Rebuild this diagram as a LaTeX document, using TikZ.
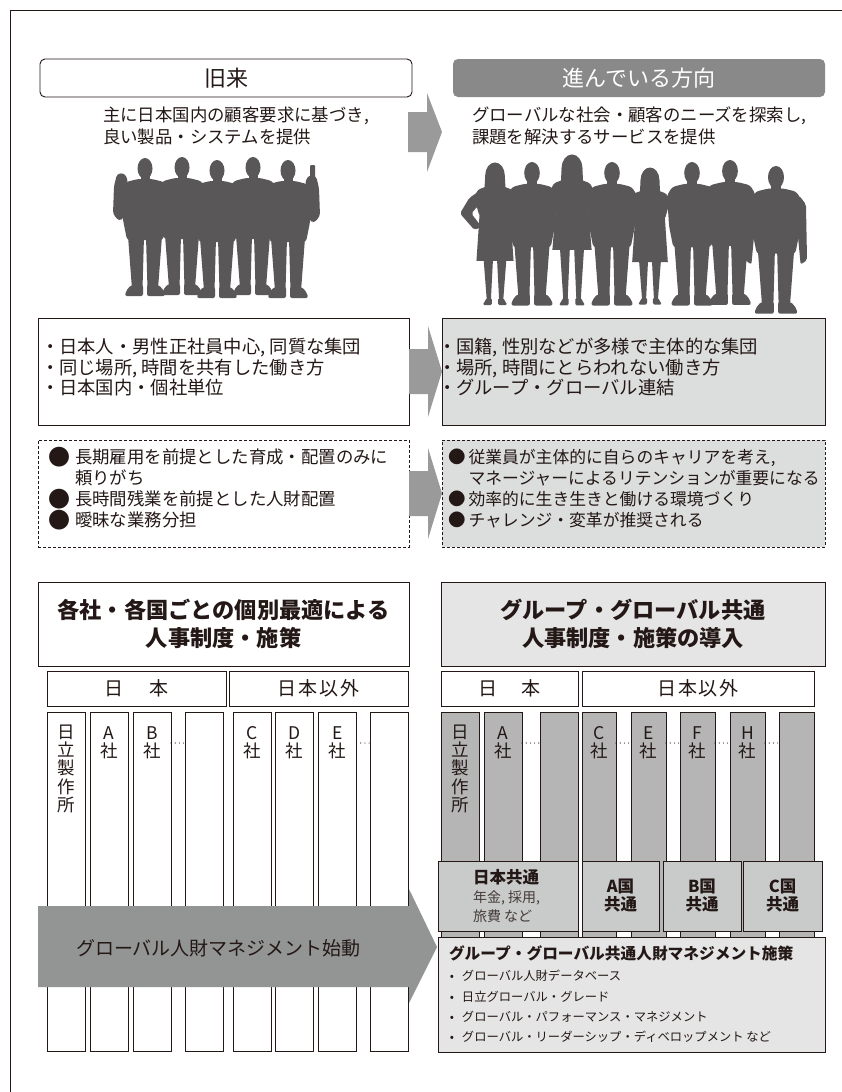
\documentclass[tikz,border=0pt]{standalone}
\usepackage{fontspec}
\setmainfont{Noto Sans CJK JP}
\definecolor{ink}{HTML}{231815}
\definecolor{silcol}{HTML}{595757}
\definecolor{arrowgray}{HTML}{9A9A9A}
\definecolor{bigarrowgray}{HTML}{939494}
\definecolor{headgray}{HTML}{898989}
\definecolor{panelgray}{HTML}{DCDDDD}
\definecolor{lightpanel}{HTML}{E5E5E5}
\definecolor{colgray}{HTML}{B5B5B6}
\definecolor{midgray}{HTML}{C9CACA}

% stacked lines whose first baseline is the baseline of the box
\newcommand\ctrlines[2]{\vtop{\baselineskip=#1\lineskiplimit=-\maxdimen\halign{\hfil##\hfil\cr#2\crcr}}}
\newcommand\leftlines[2]{\vtop{\baselineskip=#1\lineskiplimit=-\maxdimen\halign{##\hfil\cr#2\crcr}}}
\newcommand\jfs[1]{\fontsize{#1}{#1}\selectfont}
% large round bullet: box width, glyph size, vertical shift
\newcommand\bigdot[3]{\makebox[#1][l]{\raisebox{#3}{\fontsize{#2}{#2}\selectfont ●}}}

\tikzset{
  sil/.style={fill=silcol},
  lbl/.style={inner sep=0pt, outer sep=0pt, text=ink},
  plainbox/.style={draw=ink, line width=0.9pt, inner sep=0pt, outer sep=0pt, text=ink},
  dashbox/.style={plainbox, line width=0.8pt, dash pattern=on 3pt off 2pt},
  colbox/.style={plainbox, minimum width=38pt, minimum height=339pt, fill=white},
  gcolbox/.style={plainbox, minimum height=228pt, fill=colgray},
  dotrow/.style={draw=ink, line width=1.2pt, line cap=round, dash pattern=on 0pt off 4.2pt},
}

% standing man, origin at the top of the head, y pointing down
\newcommand\manbody{%
  \fill[sil] (0,10.5) ellipse (7.5 and 10.5);
  \fill[sil] (-4.5,16) rectangle (4.5,25);
  \fill[sil,rounded corners=3pt] (-7,21) -- (-19,24) -- (-24,32) -- (-22,62) -- (-18,82) -- (18,82) -- (22,62) -- (24,32) -- (19,24) -- (7,21) -- cycle;
  \fill[sil] (-17,78) -- (-1,78) -- (-2.5,131) -- (-13,131) -- cycle;
  \fill[sil] (1,78) -- (17,78) -- (13,131) -- (2.5,131) -- cycle;
  \fill[sil,rounded corners=2pt] (-14,127) -- (-2,127) -- (-2,138) -- (-20,138) -- (-19,133) -- cycle;
  \fill[sil,rounded corners=2pt] (14,127) -- (2,127) -- (2,138) -- (20,138) -- (19,133) -- cycle;
}
\newcommand\manfig[3]{\begin{scope}[shift={(#1,#2)},scale=#3]\manbody\end{scope}}
% standing woman in a skirt; #4 is the hem height
\newcommand\womanfig[4]{\begin{scope}[shift={(#1,#2)},scale=#3]
  \fill[sil] (0,12) ellipse (9.5 and 12.5);
  \fill[sil] (-9.5,12) -- (-10.5,30) -- (10.5,30) -- (9.5,12) -- cycle;
  \fill[sil,rounded corners=3pt] (-6,22) -- (-17,26) -- (-20,34) -- (-15,52) -- (15,52) -- (20,34) -- (17,26) -- (6,22) -- cycle;
  \fill[sil] (-15,50) -- (15,50) -- (18,#4) -- (-18,#4) -- cycle;
  \fill[sil] (-11,#4-1) -- (-2,#4-1) -- (-4,133) -- (-8,133) -- cycle;
  \fill[sil] (11,#4-1) -- (2,#4-1) -- (4,133) -- (8,133) -- cycle;
  \fill[sil,rounded corners=1.5pt] (-8,131) -- (-3,131) -- (-3,138) -- (-12,138) -- cycle;
  \fill[sil,rounded corners=1.5pt] (8,131) -- (3,131) -- (3,138) -- (12,138) -- cycle;
\end{scope}}

\begin{document}
\begin{tikzpicture}[x=1pt,y=-1pt]
\useasboundingbox (0,0) rectangle (842,1092);
\fill[white] (0,0) rectangle (842,1092);

% page frame
\draw[ink, line width=0.8pt] (842,10) -- (10,10) -- (10,1092);

% ---------- headings ----------
\node[plainbox, rounded corners=5pt, fill=white, minimum width=372pt, minimum height=38pt, font=\jfs{22}] (oldHead) at (226,78) {旧来};
\node[plainbox, draw=none, rounded corners=5pt, fill=headgray, text=white, minimum width=372pt, minimum height=38pt, font=\jfs{22}] (newHead) at (639,78) {進んでいる方向};

\fill[arrowgray] (408,112) -- (427,112) -- (427,93) -- (442,132) -- (427,172) -- (427,152) -- (408,152) -- cycle;

\node[lbl, anchor=base west, font=\jfs{17.4}] (oldDesc) at (103,121.5)
  {\leftlines{22pt}{主に日本国内の顧客要求に基づき,\cr 良い製品・システムを提供}};
\node[lbl, anchor=base west, font=\jfs{17.4}] (newDesc) at (472,121.5)
  {\leftlines{22pt}{グローバルな社会・顧客のニーズを探索し,\cr 課題を解決するサービスを提供}};

% ---------- silhouettes: five men ----------
\foreach \hx/\hy in {145/158, 182/157, 217/160, 253/157, 288/160} {\manfig{\hx}{\hy}{1.0}}
\begin{scope}[shift={(145,158)}]
  \fill[sil,rounded corners=3pt] (-19,30) -- (-17,22) -- (-21,15) -- (-28,16) -- (-31,28) -- (-32,56) -- (-26,63) -- (-21,60) -- cycle;
\end{scope}
\begin{scope}[shift={(288,160)}]
  \fill[sil,rounded corners=3pt] (19,30) -- (17,22) -- (21,15) -- (28,16) -- (31,28) -- (32,56) -- (26,63) -- (21,60) -- cycle;
  \fill[sil,rounded corners=1pt] (22,5) rectangle (27,18);
\end{scope}

% ---------- silhouettes: mixed group ----------
\womanfig{495}{163}{1.03}{95}
\begin{scope}[shift={(495,163)},scale=1.03]
  \fill[sil,rounded corners=2pt] (-15,27) -- (-25,34) -- (-34,49) -- (-20,65) -- (-13,62) -- (-23,49) -- (-16,41) -- cycle;
\end{scope}
\manfig{532}{162}{1.04}
\womanfig{572}{155}{1.09}{87}
\manfig{612}{162}{1.04}
\womanfig{650}{168}{0.99}{95}
\manfig{692}{162}{1.04}
\manfig{730}{160}{1.05}
\manfig{776}{166}{1.07}
\begin{scope}[shift={(776,166)},scale=1.07]
  \fill[sil,rounded corners=2pt] (-22,28) -- (-28,36) -- (-29,88) -- (-23,92) -- (-20,60) -- cycle;
  \fill[sil,rounded corners=2pt] (22,28) -- (28,36) -- (29,88) -- (23,92) -- (20,60) -- cycle;
\end{scope}

% ---------- first row ----------
\node[plainbox, fill=white, minimum width=371pt, minimum height=107pt] (rowOneL) at (223.5,371.5) {};
\node[plainbox, fill=panelgray, minimum width=383pt, minimum height=107pt] (rowOneR) at (633.5,371.5) {};
\fill[arrowgray] (409,349) -- (428,349) -- (428,326) -- (442,371.5) -- (428,417) -- (428,394) -- (409,394) -- cycle;

\node[lbl, anchor=base west, font=\jfs{18.3}] (rowOneLT) at (41,353.6)
  {\leftlines{20.5pt}{・日本人・男性正社員中心, 同質な集団\cr ・同じ場所, 時間を共有した働き方\cr ・日本国内・個社単位}};
\node[lbl, anchor=base west, font=\jfs{18.3}] (rowOneRT) at (438,353.6)
  {\leftlines{20.5pt}{・国籍, 性別などが多様で主体的な集団\cr ・場所, 時間にとらわれない働き方\cr ・グループ・グローバル連結}};

% ---------- second row ----------
\node[dashbox, fill=white, minimum width=371pt, minimum height=107pt] (rowTwoL) at (223.5,493.5) {};
\node[dashbox, fill=panelgray, minimum width=383pt, minimum height=107pt] (rowTwoR) at (633.5,493.5) {};
\fill[arrowgray] (409,471) -- (428,471) -- (428,448) -- (442,493.5) -- (428,539) -- (428,516) -- (409,516) -- cycle;

\node[lbl, anchor=base west, font=\jfs{17.4}] (rowTwoLT) at (48,463.6)
  {\leftlines{21pt}{\bigdot{27pt}{22}{-1.4pt}長期雇用を前提とした育成・配置のみに\cr
   \hspace*{27pt}頼りがち\cr
   \bigdot{27pt}{22}{-1.4pt}長時間残業を前提とした人財配置\cr
   \bigdot{27pt}{22}{-1.4pt}曖昧な業務分担}};
\node[lbl, anchor=base west, font=\jfs{16.8}] (rowTwoRT) at (448,463.6)
  {\leftlines{21pt}{\bigdot{20.5pt}{17.5}{-0.3pt}従業員が主体的に自らのキャリアを考え,\cr
   \hspace*{20.5pt}マネージャーによるリテンションが重要になる\cr
   \bigdot{20.5pt}{17.5}{-0.3pt}効率的に生き生きと働ける環境づくり\cr
   \bigdot{20.5pt}{17.5}{-0.3pt}チャレンジ・変革が推奨される}};

% ---------- lower left: per-company systems ----------
\node[plainbox, fill=white, minimum width=371pt, minimum height=84pt, font=\jfs{22.2}\bfseries] (hdrL) at (223.5,624)
  {\ctrlines{28pt}{各社・各国ごとの個別最適による\cr 人事制度・施策}};
\node[plainbox, fill=white, minimum width=179pt, minimum height=35pt, font=\jfs{19}] (jpL) at (136.5,688.5) {日\hspace{26pt}本};
\node[plainbox, fill=white, minimum width=179pt, minimum height=35pt, font=\jfs{19}] (exL) at (318.5,688.5) {日\hspace{2pt}本\hspace{2pt}以\hspace{2pt}外};

\foreach \i/\cx in {1/66.5, 2/109, 3/152, 4/204, 5/252, 6/294.5, 7/337.5, 8/389}
  \node[colbox] (colL\i) at (\cx,881.5) {};

\node[lbl, anchor=base, font=\jfs{17.5}] (hitL) at (colL1 |- 0,738.5) {\ctrlines{18.2pt}{日\cr 立\cr 製\cr 作\cr 所}};
\foreach \i/\c in {2/A, 3/B, 5/C, 6/D, 7/E}
  \node[lbl, anchor=base, font=\jfs{17.5}] (labL\i) at (colL\i |- 0,739.5) {\ctrlines{18pt}{\c\cr 社}};
\draw[dotrow] (colL3.east |- 0,743) -- (colL4.west |- 0,743);
\draw[dotrow] (colL7.east |- 0,743) -- (colL8.west |- 0,743);

\fill[bigarrowgray] (38,906) -- (409,906) -- (409,889) -- (437,947) -- (409,1003) -- (409,987) -- (38,987) -- cycle;
\node[lbl, anchor=base west, font=\jfs{19}] (launch) at (76,955.2) {グローバル人財マネジメント始動};

% ---------- lower right: common group-wide systems ----------
\node[plainbox, fill=lightpanel, minimum width=384pt, minimum height=84pt, font=\jfs{22.2}\bfseries] (hdrR) at (633,624)
  {\ctrlines{28pt}{グループ・グローバル共通\cr 人事制度・施策の導入}};
\node[plainbox, fill=white, minimum width=137pt, minimum height=35pt, font=\jfs{19}] (jpR) at (509.5,688.5) {日\hspace{24pt}本};
\node[plainbox, fill=white, minimum width=232pt, minimum height=35pt, font=\jfs{19}] (exR) at (698,688.5) {日\hspace{1.5pt}本\hspace{1.5pt}以\hspace{1.5pt}外};

\foreach \i/\cx/\w in {1/460/38, 2/503/38, 3/559/38, 4/599/34, 5/648.5/35, 6/697.5/35, 7/747.5/35, 8/796.5/35}
  \node[gcolbox, minimum width=\w pt] (colR\i) at (\cx,826) {};

\node[lbl, anchor=base, font=\jfs{17.5}] (hitR) at (colR1 |- 0,738.5) {\ctrlines{18.2pt}{日\cr 立\cr 製\cr 作\cr 所}};
\foreach \i/\c in {2/A, 4/C, 5/E, 6/F, 7/H}
  \node[lbl, anchor=base, font=\jfs{17.5}] (labR\i) at (colR\i |- 0,739.5) {\ctrlines{18pt}{\c\cr 社}};
\foreach \a/\b in {2/3, 4/5, 5/6, 6/7, 7/8}
  \draw[dotrow] (colR\a.east |- 0,743) -- (colR\b.west |- 0,743);

\node[plainbox, fill=midgray, minimum width=140pt, minimum height=70pt] (jpCommon) at (508,896) {};
\node[lbl, anchor=base west, font=\jfs{16.5}\bfseries] (jpCommonT) at (473,883.3) {日本共通};
\node[lbl, anchor=base west, font=\jfs{14}, text=ink!85] (jpCommonS) at (473,902.3)
  {\leftlines{19pt}{年金, 採用,\cr 旅費 など}};
\node[plainbox, fill=midgray, minimum width=77pt, minimum height=70pt, font=\jfs{16.5}\bfseries] (aCommon) at (620.5,896) {\ctrlines{18pt}{A国\cr 共通}};
\node[plainbox, fill=midgray, minimum width=78pt, minimum height=70pt, font=\jfs{16.5}\bfseries] (bCommon) at (702,896) {\ctrlines{18pt}{B国\cr 共通}};
\node[plainbox, fill=midgray, minimum width=79pt, minimum height=70pt, font=\jfs{16.5}\bfseries] (cCommon) at (782.5,896) {\ctrlines{18pt}{C国\cr 共通}};

\node[plainbox, fill=lightpanel, minimum width=387pt, minimum height=115pt] (policy) at (631.5,994.5) {};
\node[lbl, anchor=base west, font=\jfs{15.7}\bfseries] (policyT) at (449,959) {グループ・グローバル共通人財マネジメント施策};
\node[lbl, anchor=base west, font=\jfs{12.3}] (policyL) at (452,980.7)
  {\leftlines{20.3pt}{\makebox[0pt][c]{•}\hspace{10pt}グローバル人財データベース\cr
   \makebox[0pt][c]{•}\hspace{10pt}日立グローバル・グレード\cr
   \makebox[0pt][c]{•}\hspace{10pt}グローバル・パフォーマンス・マネジメント\cr
   \makebox[0pt][c]{•}\hspace{10pt}グローバル・リーダーシップ・ディベロップメント など}};
\end{tikzpicture}
\end{document}
